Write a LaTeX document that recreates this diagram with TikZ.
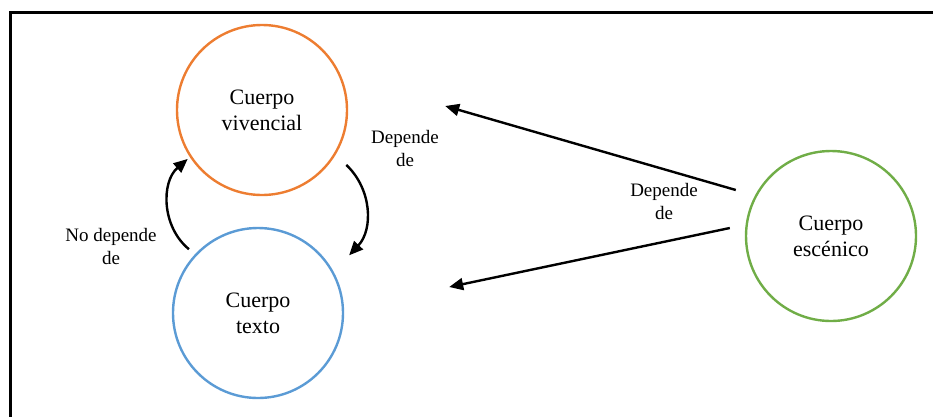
\documentclass[tikz,border=0pt]{standalone}
\usepackage{fontspec}
\setmainfont{Liberation Serif}
\usetikzlibrary{arrows.meta,calc}
\definecolor{corange}{HTML}{ED7D31}
\definecolor{cblue}{HTML}{5B9BD5}
\definecolor{cgreen}{HTML}{70AD47}
\tikzset{
  bubble/.style={circle,draw,line width=2.4pt,minimum size=170pt,inner sep=0pt,align=center,
    font=\fontsize{22}{26}\selectfont},
  arr/.style={line width=2.4pt,-{Triangle[length=14pt,width=12pt]}},
  lbl/.style={align=center,font=\fontsize{19}{23}\selectfont,inner sep=0pt}
}
\begin{document}
\begin{tikzpicture}[x=1pt,y=-1pt]
\useasboundingbox (0,0) rectangle (933,416);
\draw[line width=3pt] (10,420) -- (10,12) -- (940,12);
\node[bubble,draw=corange] (viv) at (262,110) {Cuerpo\\vivencial};
\node[bubble,draw=cblue] (tex) at (258,313) {Cuerpo\\texto};
\node[bubble,draw=cgreen] (esc) at (831,236) {Cuerpo\\escénico};
\draw[arr] ([shift={(-6,-5)}]tex.137) to[bend left=50] ([shift={(-2,2)}]viv.213);
\draw[arr] ([shift={(12,8)}]viv.-33.5) to[bend left=45] ([shift={(18,-12)}]tex.32);
\draw[arr] ([shift={(-9,-46)}]esc.west) -- ([shift={(97,-4)}]viv.east);
\draw[arr] ([shift={(-15,-8)}]esc.west) -- ([shift={(105,-26)}]tex.east);
\node[lbl] (l1) at (405,148) {Depende\\de};
\node[lbl] (l2) at (111,246) {No depende\\de};
\node[lbl] (l3) at (664,201) {Depende\\de};
\end{tikzpicture}
\end{document}
